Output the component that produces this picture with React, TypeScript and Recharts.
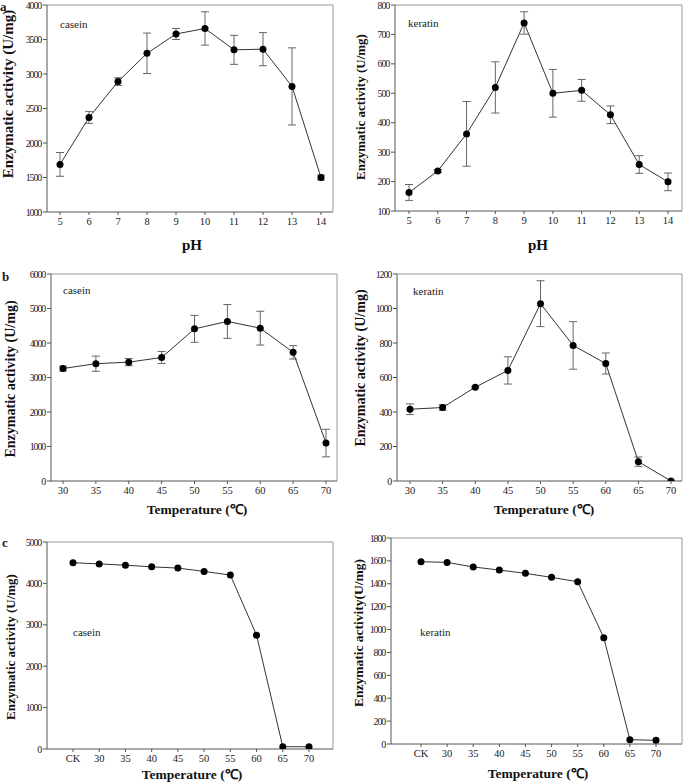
import { ErrorBar, Label, Line, LineChart, ReferenceLine, XAxis, YAxis } from "recharts";

const FONT = '"Liberation Serif", "Times New Roman", serif';
const AXIS = "#555";
const FRAME = "#999";
const INK = "#222";

// a: effect of pH
const phLabels = ["5", "6", "7", "8", "9", "10", "11", "12", "13", "14"];
const phCasein = [1690, 2370, 2890, 3300, 3580, 3660, 3350, 3360, 2820, 1500];
const phCaseinErr = [172, 85, 55, 293, 80, 242, 210, 240, 559, 36];
const phKeratin = [163, 236, 362, 520, 739, 500, 510, 427, 258, 199];
const phKeratinErr = [27, 5, 110, 87, 38, 81, 37, 30, 30, 30];

// b: effect of temperature
const tempLabels = ["30", "35", "40", "45", "50", "55", "60", "65", "70"];
const tempCasein = [3260, 3400, 3445, 3580, 4410, 4625, 4430, 3730, 1100];
const tempCaseinErr = [70, 220, 105, 175, 390, 490, 490, 195, 400];
const tempKeratin = [416, 426, 544, 641, 1028, 786, 681, 112, 0];
const tempKeratinErr = [31, 16, 5, 79, 133, 138, 61, 27, 0];

// c: thermal stability
const stabLabels = ["CK", "30", "35", "40", "45", "50", "55", "60", "65", "70"];
const stabCasein = [4500, 4470, 4440, 4400, 4370, 4290, 4200, 2750, 55, 55];
const stabKeratin = [1593, 1587, 1547, 1520, 1491, 1456, 1418, 929, 38, 32];

type Point = { x: string; y: number; err?: number };

function toPoints(labels: string[], values: number[], errors?: number[]): Point[] {
  return labels.map((x, i) => ({ x, y: values[i], err: errors ? errors[i] : undefined }));
}

function steps(from: number, to: number, step: number) {
  const out: number[] = [];
  for (let v = from; v <= to; v += step) out.push(v);
  return out;
}

// y tick labels in the original are set tight
function NarrowTick(props: any) {
  const { x, y, payload } = props;
  return (
    <text
      x={x + 1}
      y={y}
      dy="0.35em"
      textAnchor="end"
      fontSize={10}
      letterSpacing={-1.2}
      fontFamily={FONT}
      fill={INK}
    >
      {String(payload.value)}
    </text>
  );
}

type Title = { text: string; x: number; y: number; size: number };

function title(t: Title, rotate: boolean) {
  return (
    <Label
      content={() => (
        <text
          transform={`translate(${t.x},${t.y})${rotate ? " rotate(-90)" : ""}`}
          textAnchor="middle"
          dominantBaseline="central"
          fontFamily={FONT}
          fontWeight="bold"
          fontSize={t.size}
          fill="#111"
        >
          {t.text}
        </text>
      )}
    />
  );
}

type PanelProps = {
  left: number;
  top: number;
  width: number;
  height: number;
  margin: { top: number; right: number; bottom: number; left: number };
  yWidth: number;
  xHeight: number;
  xPad: { left: number; right: number };
  yDomain: [number, number];
  yTicks: number[];
  data: Point[];
  withErr: boolean;
  yTitle: Title;
  xTitle: Title;
};

function Panel(p: PanelProps) {
  return (
    <div style={{ position: "absolute", left: p.left, top: p.top }}>
      <LineChart width={p.width} height={p.height} data={p.data} margin={p.margin}>
        <XAxis
          dataKey="x"
          padding={p.xPad}
          height={p.xHeight}
          interval={0}
          tickSize={3}
          tickMargin={3}
          tick={{ fontSize: 10.5, fill: INK, fontFamily: FONT }}
          axisLine={{ stroke: AXIS }}
          tickLine={{ stroke: AXIS }}
        >
          {title(p.xTitle, false)}
        </XAxis>
        <YAxis
          type="number"
          domain={p.yDomain}
          ticks={p.yTicks}
          interval={0}
          width={p.yWidth}
          tickSize={4}
          tickMargin={3}
          tick={<NarrowTick />}
          axisLine={{ stroke: AXIS }}
          tickLine={{ stroke: AXIS }}
          allowDataOverflow
        >
          {title(p.yTitle, true)}
        </YAxis>
        {/* right edge of the box */}
        <YAxis
          yAxisId="edge"
          orientation="right"
          type="number"
          domain={p.yDomain}
          allowDataOverflow
          width={1}
          tick={false}
          tickLine={false}
          axisLine={{ stroke: FRAME }}
        />
        {/* top edge of the box */}
        <ReferenceLine y={p.yDomain[1]} stroke={FRAME} ifOverflow="visible" />
        <Line
          dataKey="y"
          stroke="#333"
          strokeWidth={1}
          dot={{ r: 3.5, fill: "#000", stroke: "#000", strokeWidth: 0 }}
          activeDot={false}
          isAnimationActive={false}
        >
          {p.withErr && (
            <ErrorBar dataKey="err" direction="y" width={4} stroke="#666" strokeWidth={1} />
          )}
        </Line>
      </LineChart>
    </div>
  );
}

const textStyle = { fontFamily: FONT, fill: INK };

export default function App() {
  return (
    <div
      style={{
        position: "absolute",
        left: 0,
        top: 0,
        width: 685,
        height: 783,
        background: "#fff",
      }}
    >
      <Panel
        left={0}
        top={0}
        width={340}
        height={255}
        margin={{ top: 5, right: 6, bottom: 3, left: 0 }}
        yWidth={47}
        xHeight={40}
        xPad={{ left: 13, right: 12 }}
        yDomain={[1000, 4000]}
        yTicks={steps(1000, 4000, 500)}
        data={toPoints(phLabels, phCasein, phCaseinErr)}
        withErr
        yTitle={{ text: "Enzymatic activity (U/mg)", x: 8, y: 94, size: 15 }}
        xTitle={{ text: "pH", x: 192, y: 245, size: 15 }}
      />
      <Panel
        left={340}
        top={0}
        width={345}
        height={255}
        margin={{ top: 5, right: 2, bottom: 4, left: 0 }}
        yWidth={55}
        xHeight={40}
        xPad={{ left: 14, right: 14 }}
        yDomain={[100, 800]}
        yTicks={steps(100, 800, 100)}
        data={toPoints(phLabels, phKeratin, phKeratinErr)}
        withErr
        yTitle={{ text: "Enzymatic activity (U/mg)", x: 20, y: 107, size: 13 }}
        xTitle={{ text: "pH", x: 198, y: 245, size: 15 }}
      />
      <Panel
        left={0}
        top={255}
        width={340}
        height={266}
        margin={{ top: 19, right: 2, bottom: 10, left: 0 }}
        yWidth={51}
        xHeight={30}
        xPad={{ left: 12, right: 11 }}
        yDomain={[0, 6000]}
        yTicks={steps(0, 6000, 1000)}
        data={toPoints(tempLabels, tempCasein, tempCaseinErr)}
        withErr
        yTitle={{ text: "Enzymatic activity (U/mg)", x: 10, y: 124, size: 14 }}
        xTitle={{ text: "Temperature (℃)", x: 197, y: 254, size: 13.5 }}
      />
      <Panel
        left={340}
        top={255}
        width={345}
        height={266}
        margin={{ top: 19, right: 2, bottom: 10, left: 0 }}
        yWidth={57}
        xHeight={30}
        xPad={{ left: 13, right: 11 }}
        yDomain={[0, 1200]}
        yTicks={steps(0, 1200, 200)}
        data={toPoints(tempLabels, tempKeratin, tempKeratinErr)}
        withErr
        yTitle={{ text: "Enzymatic activity (U/mg)", x: 20, y: 113, size: 14 }}
        xTitle={{ text: "Temperature (℃)", x: 204, y: 254, size: 13.5 }}
      />
      <Panel
        left={0}
        top={515}
        width={340}
        height={268}
        margin={{ top: 27, right: 6, bottom: 4, left: 0 }}
        yWidth={47}
        xHeight={30}
        xPad={{ left: 26, right: 24 }}
        yDomain={[0, 5000]}
        yTicks={steps(0, 5000, 1000)}
        data={toPoints(stabLabels, stabCasein)}
        withErr={false}
        yTitle={{ text: "Enzymatic activity (U/mg)", x: 10, y: 132, size: 13 }}
        xTitle={{ text: "Temperature (℃)", x: 192, y: 259, size: 13.5 }}
      />
      <Panel
        left={340}
        top={515}
        width={345}
        height={268}
        margin={{ top: 23, right: 2, bottom: 4, left: 0 }}
        yWidth={51}
        xHeight={35}
        xPad={{ left: 30, right: 26 }}
        yDomain={[0, 1800]}
        yTicks={steps(0, 1800, 200)}
        data={toPoints(stabLabels, stabKeratin)}
        withErr={false}
        yTitle={{ text: "Enzymatic activity(U/mg)", x: 18, y: 118, size: 13.5 }}
        xTitle={{ text: "Temperature (℃)", x: 198, y: 258, size: 13.5 }}
      />
      <svg
        width={685}
        height={783}
        style={{ position: "absolute", left: 0, top: 0, pointerEvents: "none" }}
      >
        <g fontWeight="bold" fontSize={13} {...textStyle}>
          <text x={0} y={11}>a</text>
          <text x={2} y={281}>b</text>
          <text x={2} y={547}>c</text>
        </g>
        <g fontSize={11} dominantBaseline="central" {...textStyle}>
          <text x={60} y={24}>casein</text>
          <text x={408} y={23}>keratin</text>
          <text x={63} y={290}>casein</text>
          <text x={413} y={291}>keratin</text>
          <text x={73} y={632}>casein</text>
          <text x={420} y={632}>keratin</text>
        </g>
      </svg>
    </div>
  );
}
